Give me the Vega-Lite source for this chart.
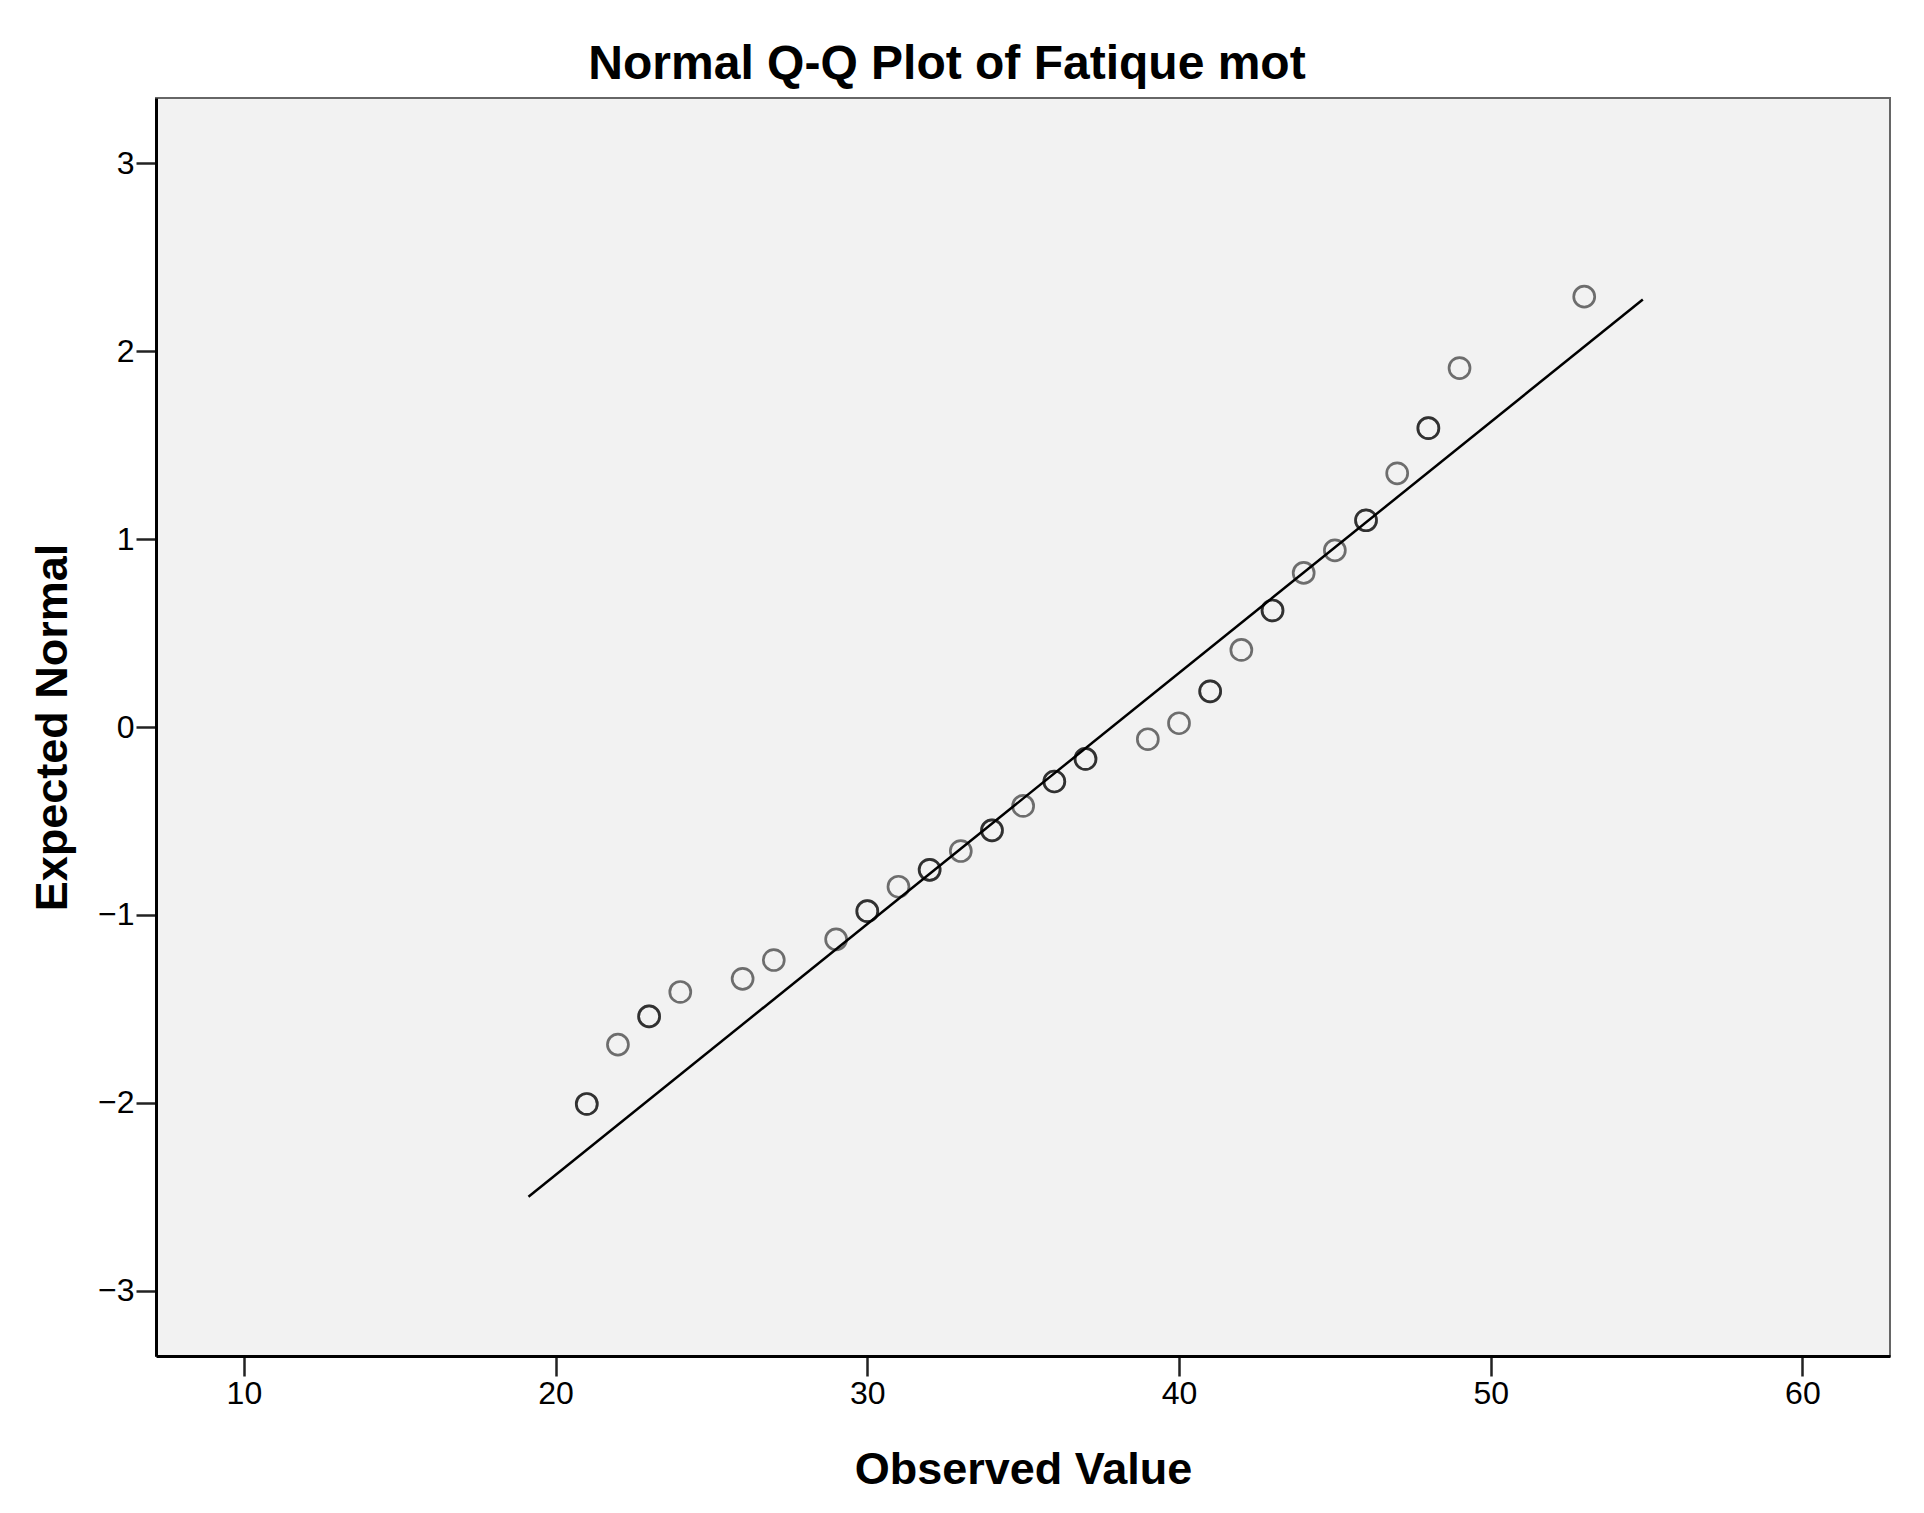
{
  "$schema": "https://vega.github.io/schema/vega-lite/v6.json",
  "autosize": "none",
  "width": 1734,
  "height": 1258,
  "padding": {"left": 156, "top": 98, "right": 34, "bottom": 157},
  "background": "white",
  "title": {
    "text": "Normal Q-Q Plot of Fatique mot",
    "font": "Liberation Sans",
    "fontSize": 48,
    "fontWeight": "bold",
    "color": "black",
    "anchor": "middle",
    "dx": -76,
    "offset": 9
  },
  "config": {
    "view": {"fill": "#f2f2f2", "stroke": "#666666", "strokeWidth": 2},
    "axis": {
      "labelFont": "Liberation Sans",
      "labelFontSize": 32,
      "labelColor": "black",
      "titleFont": "Liberation Sans",
      "titleFontSize": 45,
      "titleFontWeight": "bold",
      "titleColor": "black",
      "domainColor": "black",
      "domainWidth": 3,
      "tickColor": "#222222",
      "tickWidth": 2.5,
      "tickSize": 20,
      "labelPadding": 2,
      "grid": false,
      "labelFlush": false
    }
  },
  "layer": [
    {
      "data": {"values": [
        {"obs": 19.13, "exp": -2.5},
        {"obs": 54.88, "exp": 2.275}
      ]},
      "mark": {"type": "line", "color": "black", "strokeWidth": 2.5},
      "encoding": {
        "x": {"field": "obs", "type": "quantitative"},
        "y": {"field": "exp", "type": "quantitative"}
      }
    },
    {
      "data": {"values": [
        {"obs": 21, "exp": -2.006},
        {"obs": 21, "exp": -2.006},
        {"obs": 22, "exp": -1.69},
        {"obs": 23, "exp": -1.54},
        {"obs": 23, "exp": -1.54},
        {"obs": 24, "exp": -1.41},
        {"obs": 26, "exp": -1.34},
        {"obs": 27, "exp": -1.24},
        {"obs": 29, "exp": -1.13},
        {"obs": 30, "exp": -0.98},
        {"obs": 30, "exp": -0.98},
        {"obs": 31, "exp": -0.85},
        {"obs": 32, "exp": -0.76},
        {"obs": 32, "exp": -0.76},
        {"obs": 33, "exp": -0.66},
        {"obs": 34, "exp": -0.55},
        {"obs": 34, "exp": -0.55},
        {"obs": 35, "exp": -0.42},
        {"obs": 36, "exp": -0.29},
        {"obs": 36, "exp": -0.29},
        {"obs": 37, "exp": -0.17},
        {"obs": 37, "exp": -0.17},
        {"obs": 39, "exp": -0.065},
        {"obs": 40, "exp": 0.02},
        {"obs": 41, "exp": 0.19},
        {"obs": 41, "exp": 0.19},
        {"obs": 42, "exp": 0.41},
        {"obs": 43, "exp": 0.62},
        {"obs": 43, "exp": 0.62},
        {"obs": 44, "exp": 0.82},
        {"obs": 45, "exp": 0.94},
        {"obs": 46, "exp": 1.10},
        {"obs": 46, "exp": 1.10},
        {"obs": 47, "exp": 1.35},
        {"obs": 48, "exp": 1.59},
        {"obs": 48, "exp": 1.59},
        {"obs": 49, "exp": 1.91},
        {"obs": 53, "exp": 2.29}
      ]},
      "mark": {"type": "point", "shape": "circle", "filled": false, "stroke": "black", "strokeWidth": 2.7, "strokeOpacity": 0.78, "size": 440},
      "encoding": {
        "x": {
          "field": "obs", "type": "quantitative",
          "scale": {"domain": [7.18, 62.81], "nice": false, "zero": false},
          "axis": {"values": [10, 20, 30, 40, 50, 60], "format": "d", "title": "Observed Value", "titlePadding": 38}
        },
        "y": {
          "field": "exp", "type": "quantitative",
          "scale": {"domain": [-3.347, 3.347], "nice": false, "zero": false},
          "axis": {"values": [-3, -2, -1, 0, 1, 2, 3], "format": "d", "title": "Expected Normal", "titlePadding": 22}
        }
      }
    }
  ]
}
